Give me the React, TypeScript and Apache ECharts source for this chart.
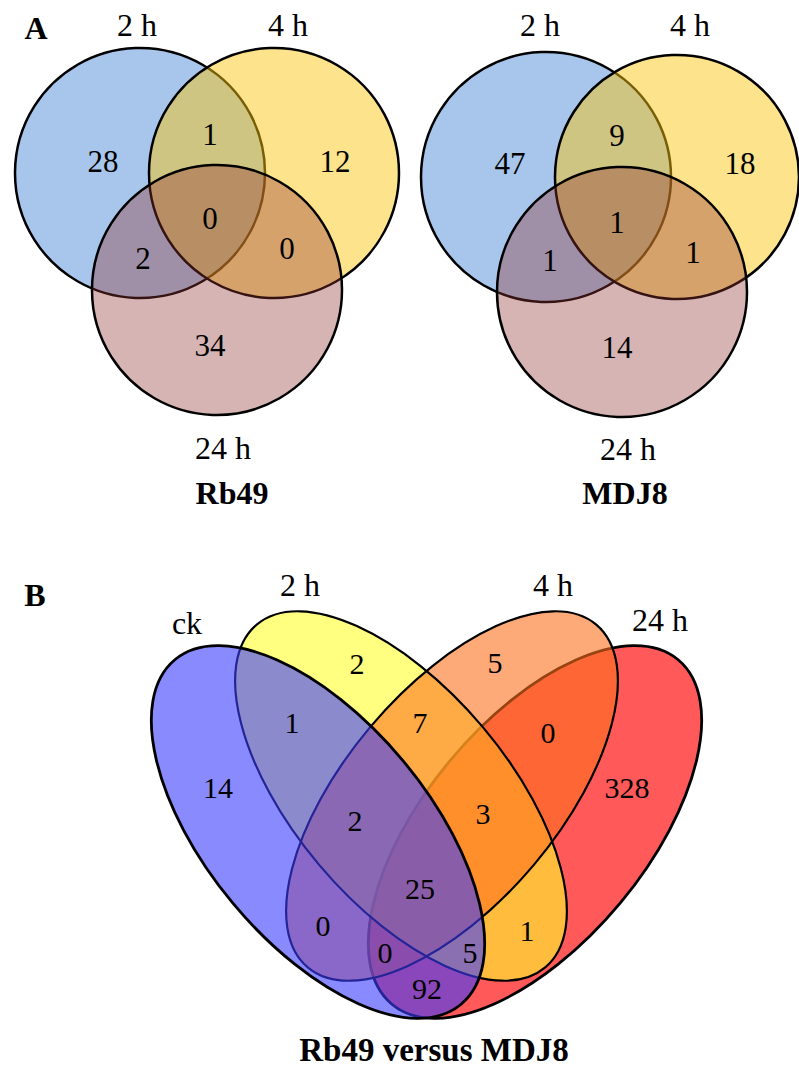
import React, { useEffect, useRef } from 'react';
import * as echarts from 'echarts';

// ---------- Data ----------
// Panel A: three-set Venn diagrams
const setsA = ['2 h', '4 h', '24 h'];
// region order: 2h only, 4h only, 24h only, 2h∩4h, 2h∩24h, 4h∩24h, 2h∩4h∩24h
const rb49Counts = [28, 12, 34, 1, 2, 0, 0];
const mdj8Counts = [47, 18, 14, 9, 1, 1, 1];
const panelTitlesA = ['Rb49', 'MDJ8'];

// Panel B: four-set Venn diagram
const setsB = ['ck', '2 h', '4 h', '24 h'];
// region order: ck, 2h, 4h, 24h, ck∩2h, 2h∩4h, 4h∩24h, ck∩2h∩4h, 2h∩4h∩24h,
// all four, ck∩4h, 2h∩24h, ck∩4h∩24h, ck∩2h∩24h, ck∩24h
const quadCounts = [14, 2, 5, 328, 1, 7, 0, 2, 3, 25, 0, 1, 0, 5, 92];
const titleB = 'Rb49 versus MDJ8';
const panelLetters = ['A', 'B'];

// ---------- Layout (positions / styles) ----------
const FAMILY = 'Liberation Serif';

const tripleLayouts = [
  {
    circles: [[140, 173, 125], [274, 173, 125], [217, 290, 125]],
    setLabels: [[137, 25], [288, 25], [223, 448]],
    regionPos: [[103, 161], [335, 161], [210, 345], [210, 134], [143, 258], [287, 248], [210, 218]],
    title: [232, 493],
  },
  {
    circles: [[546, 177, 125], [677, 177, 122], [622, 292, 125]],
    setLabels: [[540, 25], [690, 25], [628, 449]],
    regionPos: [[510, 163], [740, 163], [617, 347], [617, 135], [550, 260], [693, 252], [617, 222]],
    title: [625, 493],
  },
];
const tripleFills = ['rgba(81,141,215,0.5)', 'rgba(251,197,15,0.48)', 'rgba(147,52,52,0.37)'];

const deg = (d: number) => (d * Math.PI) / 180;
// ck, 2h, 4h, 24h
const quadEllipses = [
  { cx: 318, cy: 832, a: 224, b: 111, rot: -deg(50.3), fill: 'rgba(60,60,255,0.6)', lw: 2.8 },
  { cx: 401, cy: 796, a: 224, b: 107, rot: -deg(49.9), fill: 'rgba(255,255,43,0.6)', lw: 2.2 },
  { cx: 452, cy: 796, a: 224, b: 107, rot: deg(49.9), fill: 'rgba(253,113,30,0.6)', lw: 2.2 },
  { cx: 535, cy: 832, a: 224, b: 111, rot: deg(50.3), fill: 'rgba(255,0,0,0.65)', lw: 2.8 },
];
const quadSetLabelPos = [[187, 623], [300, 585], [553, 585], [660, 620]];
const quadRegionPos = [
  [218, 787], [357, 663], [495, 662], [627, 787], [292, 722], [420, 722], [548, 732],
  [355, 820], [483, 813], [420, 888], [323, 925], [527, 930], [385, 952], [470, 952], [427, 988],
];
const letterPos = [[36, 28], [35, 595]];
const titleBPos = [434, 1050];

function txt(text: string, x: number, y: number, size: number, bold = false, z = 50) {
  return {
    type: 'text',
    x,
    y,
    z,
    style: {
      text,
      font: `${bold ? 'bold' : 'normal'} ${size}px ${FAMILY}`,
      fill: '#000',
      align: 'center',
      verticalAlign: 'middle',
    },
  };
}

function buildGraphic() {
  const els: any[] = [];
  let z = 1;
  // Panel A
  const countsA = [rb49Counts, mdj8Counts];
  tripleLayouts.forEach((lay, p) => {
    lay.circles.forEach((c, i) => {
      els.push({
        type: 'circle',
        z: z++,
        shape: { cx: c[0], cy: c[1], r: c[2] },
        style: { fill: tripleFills[i], stroke: '#000', lineWidth: 2.5 },
      });
    });
    setsA.forEach((s, i) => els.push(txt(s, lay.setLabels[i][0], lay.setLabels[i][1], 32)));
    countsA[p].forEach((v, i) => els.push(txt(String(v), lay.regionPos[i][0], lay.regionPos[i][1], 31)));
    els.push(txt(panelTitlesA[p], lay.title[0], lay.title[1], 32, true));
  });

  // Panel B: fills of 24h, 2h, 4h; outlines of 2h/4h; then ck on top
  const ell = (e: any, fill: any, stroke: any, lw: number) => ({
    type: 'ellipse',
    z: z++,
    x: e.cx,
    y: e.cy,
    rotation: e.rot,
    shape: { cx: 0, cy: 0, rx: e.a, ry: e.b },
    style: { fill, stroke, lineWidth: lw },
  });
  const [ck, h2, h4, h24] = quadEllipses;
  els.push(ell(h24, h24.fill, '#000', h24.lw));
  els.push(ell(h2, h2.fill, null, 0));
  els.push(ell(h4, h4.fill, null, 0));
  els.push(ell(h2, 'none', '#000', h2.lw));
  els.push(ell(h4, 'none', '#000', h4.lw));
  els.push(ell(ck, ck.fill, '#000', ck.lw));

  setsB.forEach((s, i) => els.push(txt(s, quadSetLabelPos[i][0], quadSetLabelPos[i][1], 32)));
  quadCounts.forEach((v, i) => els.push(txt(String(v), quadRegionPos[i][0], quadRegionPos[i][1], 30)));
  els.push(txt(titleB, titleBPos[0], titleBPos[1], 33, true));

  panelLetters.forEach((l, i) => els.push(txt(l, letterPos[i][0], letterPos[i][1], 32, true)));
  return els;
}

export default function App() {
  const ref = useRef<HTMLDivElement>(null);
  useEffect(() => {
    if (!ref.current) return;
    const chart = echarts.init(ref.current, undefined, { renderer: 'svg' });
    chart.setOption({
      animation: false,
      backgroundColor: '#ffffff',
      graphic: { elements: buildGraphic() },
    });
    return () => chart.dispose();
  }, []);
  return (
    <div
      ref={ref}
      style={{ position: 'absolute', left: 0, top: 0, width: 799, height: 1068, background: '#fff' }}
    />
  );
}
